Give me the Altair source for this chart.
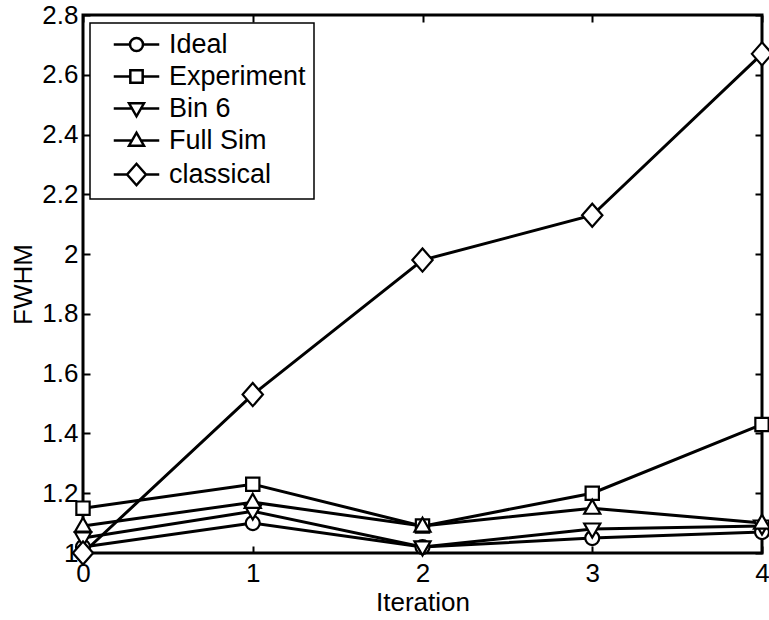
import altair as alt
import pandas as pd

# ---------------- data ----------------
iterations = [0, 1, 2, 3, 4]
series_names = ["Ideal", "Experiment", "Bin 6", "Full Sim", "classical"]
ideal = [1.02, 1.10, 1.02, 1.05, 1.07]
experiment = [1.15, 1.23, 1.09, 1.20, 1.43]
bin6 = [1.05, 1.14, 1.02, 1.08, 1.09]
full_sim = [1.09, 1.17, 1.09, 1.15, 1.10]
classical = [1.00, 1.53, 1.98, 2.13, 2.67]

x_ticks = [0, 1, 2, 3, 4]
y_ticks = [1.0, 1.2, 1.4, 1.6, 1.8, 2.0, 2.2, 2.4, 2.6, 2.8]

rows = []
for name, vals in zip(series_names, [ideal, experiment, bin6, full_sim, classical]):
    for it, v in zip(iterations, vals):
        rows.append({"Iteration": it, "FWHM": v, "series": name})
df = pd.DataFrame(rows)

# ---------------- styling ----------------
W, H = 679, 538
FONT = "Liberation Sans"
FS = 26

marker_paths = [
    "M-1,0A1,1 0 1,1 1,0A1,1 0 1,1 -1,0Z",                 # circle
    "M-0.95,-0.95H0.95V0.95H-0.95Z",                        # square
    "M-1.15,-0.8L1.15,-0.8L0,1.2Z",                         # triangle down
    "M-1.15,0.8L1.15,0.8L0,-1.2Z",                          # triangle up
    "M-1.45,0L0,-1.65L1.45,0L0,1.65Z",                      # diamond
]
edges = [1.0, 0.95, 0.55, 0.55, 1.45]
legend_paths = [
    f"M-3.5,0H{-e} M{e},0H3.5 " + p for p, e in zip(marker_paths, edges)
]

x_scale = alt.Scale(domain=[0, 4], nice=False, zero=False)
y_scale = alt.Scale(domain=[1, 2.8], nice=False, zero=False)

tick_common = dict(labels=False, ticks=True, tickSize=7, tickWidth=2,
                   tickColor="black", domain=False, grid=False, title=None)

base = alt.Chart(df)

lines = base.mark_line(color="black", strokeWidth=3).encode(
    x=alt.X("Iteration:Q", scale=x_scale,
            axis=alt.Axis(values=x_ticks, orient="bottom", ticks=False, domain=False,
                          grid=False, labelFontSize=FS, labelFont=FONT,
                          labelColor="black", labelPadding=7, labelFlush=False,
                          labelOverlap=False,
                          title="Iteration", titleFontSize=FS, titleFont=FONT,
                          titleFontWeight="normal", titleColor="black",
                          titleY=49, titleBaseline="middle")),
    y=alt.Y("FWHM:Q", scale=y_scale,
            axis=alt.Axis(values=y_ticks, format="~g", orient="left", ticks=False,
                          domain=False, grid=False, labelFontSize=FS, labelFont=FONT,
                          labelColor="black", labelPadding=5, labelOverlap=False,
                          labelFlush=False,
                          title="FWHM", titleFontSize=FS, titleFont=FONT,
                          titleFontWeight="normal", titleColor="black",
                          titleX=-60, titleY=H / 2, titleAngle=-90,
                          titleBaseline="middle", titleAlign="center")),
    detail="series:N",
)

points = base.mark_point(filled=True, fill="white", stroke="black",
                         strokeWidth=2.2, size=196, opacity=1).encode(
    x=alt.X("Iteration:Q", scale=x_scale, axis=None),
    y=alt.Y("FWHM:Q", scale=y_scale, axis=None),
    shape=alt.Shape("series:N",
                    scale=alt.Scale(domain=series_names, range=marker_paths),
                    legend=None),
)

legend_layer = base.transform_filter("false").mark_point(
    filled=False, stroke="black", strokeWidth=2.5, opacity=1).encode(
    x=alt.X("Iteration:Q", scale=x_scale, axis=None),
    y=alt.Y("FWHM:Q", scale=y_scale, axis=None),
    shape=alt.Shape("series:N",
                    scale=alt.Scale(domain=series_names, range=legend_paths),
                    legend=alt.Legend(title=None, orient="none", legendX=7, legendY=8,
                                      padding=8, strokeColor="black", fillColor="white",
                                      labelFontSize=27, labelFont=FONT,
                                      labelColor="black", symbolSize=169,
                                      symbolStrokeWidth=2.5, symbolFillColor="white",
                                      symbolStrokeColor="black", symbolOpacity=1,
                                      symbolOffset=25,
                                      labelOffset=19, rowPadding=4)),
)

ticks_a = base.mark_point(opacity=0).encode(
    x=alt.X("Iteration:Q", scale=x_scale,
            axis=alt.Axis(values=x_ticks, orient="top", offset=-H, **tick_common)),
    y=alt.Y("FWHM:Q", scale=y_scale,
            axis=alt.Axis(values=y_ticks, orient="right", offset=-W, **tick_common)),
)

ticks_b = base.mark_point(opacity=0).encode(
    x=alt.X("Iteration:Q", scale=x_scale,
            axis=alt.Axis(values=x_ticks, orient="bottom", offset=-H, **tick_common)),
    y=alt.Y("FWHM:Q", scale=y_scale,
            axis=alt.Axis(values=y_ticks, orient="left", offset=-W, **tick_common)),
)

chart = alt.layer(lines, points, legend_layer, ticks_a, ticks_b).resolve_scale(
    shape="independent"
).resolve_axis(
    x="independent", y="independent"
).properties(
    width=W, height=H,
    autosize=alt.AutoSizeParams(type="none"),
    padding={"left": 83, "top": 15, "right": 7, "bottom": 67},
    background="white",
).configure_view(
    stroke="black", strokeWidth=3
).configure_legend(
    strokeWidth=1.5
)

chart.save("out.html", embed_options={"renderer": "svg", "actions": False})
